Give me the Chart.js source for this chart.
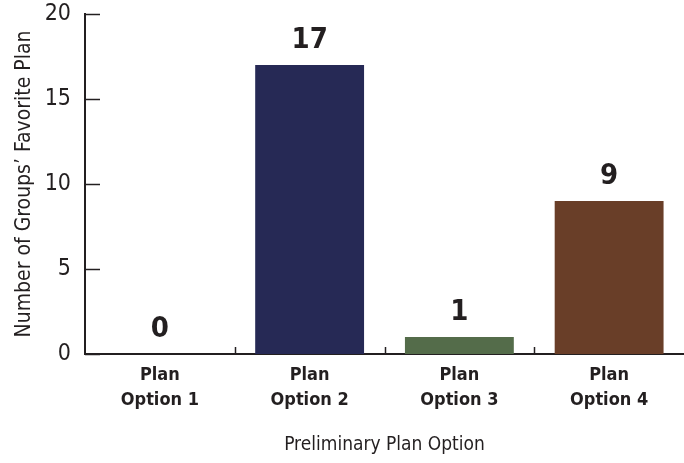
<!DOCTYPE html>
<html>
<head>
<meta charset="utf-8">
<script src="https://cdn.jsdelivr.net/npm/chart.js@4.4.1/dist/chart.umd.min.js"></script>
<style>
  html, body { margin: 0; padding: 0; background: #fff; }
  #wrap { width: 684px; height: 463px; position: relative; }
</style>
</head>
<body>
<div id="wrap"><canvas id="planChart"></canvas></div>
<script>
// data
const categories = [["Plan", "Option 1"], ["Plan", "Option 2"], ["Plan", "Option 3"], ["Plan", "Option 4"]];
const groupCounts = [0, 17, 1, 9];
const barColors = ["#7a7a7a", "#262955", "#546c4a", "#693e28"];
const yTicks = [0, 5, 10, 15, 20];

const FONT = "'Liberation Sans Narrow', 'DejaVu Sans Condensed', 'Arial Narrow', sans-serif";
const INK = "#231f20";

// inward tick marks + value labels above the bars
const axisMarks = {
  id: "axisMarks",
  afterDraw(chart) {
    const ctx = chart.ctx;
    const x = chart.scales.x;
    const y = chart.scales.y;
    ctx.save();
    ctx.strokeStyle = INK;
    ctx.lineWidth = 1.5;
    // y ticks pointing into the plot
    yTicks.forEach((v) => {
      const py = Math.round(y.getPixelForValue(v)) + 0.5;
      ctx.beginPath();
      ctx.moveTo(x.left, py);
      ctx.lineTo(x.left + 15, py);
      ctx.stroke();
    });
    // small ticks between categories on the x axis
    for (let i = 0; i < categories.length - 1; i++) {
      const bx = Math.round((x.getPixelForTick(i) + x.getPixelForTick(i + 1)) / 2) + 0.5;
      ctx.beginPath();
      ctx.moveTo(bx, y.bottom);
      ctx.lineTo(bx, y.bottom - 7);
      ctx.stroke();
    }
    ctx.restore();
  },
  afterDatasetsDraw(chart) {
    const ctx = chart.ctx;
    const meta = chart.getDatasetMeta(0);
    ctx.save();
    ctx.fillStyle = INK;
    ctx.font = "bold 29px " + FONT;
    ctx.textAlign = "center";
    ctx.textBaseline = "alphabetic";
    meta.data.forEach((bar, i) => {
      ctx.fillText(String(groupCounts[i]), bar.x, bar.y - 17);
    });
    ctx.restore();
  },
};

const ctx = document.getElementById("planChart").getContext("2d");
new Chart(ctx, {
  type: "bar",
  data: {
    labels: categories,
    datasets: [
      {
        data: groupCounts,
        backgroundColor: barColors,
        borderWidth: 0,
        categoryPercentage: 1,
        barPercentage: 0.727,
      },
    ],
  },
  options: {
    responsive: true,
    maintainAspectRatio: false,
    animation: false,
    layout: { padding: { top: 14, right: 0, left: 0, bottom: 0 } },
    plugins: {
      legend: { display: false },
      tooltip: { enabled: false },
    },
    scales: {
      x: {
        offset: true,
        grid: { display: false },
        border: { display: true, color: INK, width: 2 },
        ticks: {
          color: INK,
          font: { family: FONT, size: 18, weight: "bold", lineHeight: 1.39 },
          padding: 1,
          maxRotation: 0,
          autoSkip: false,
        },
        title: {
          display: true,
          text: "Preliminary Plan Option",
          color: INK,
          font: { family: FONT, size: 19, lineHeight: 1.2 },
          padding: { top: 0, bottom: 7 },
        },
        afterFit(scale) {
          scale.height = 109;
        },
      },
      y: {
        min: 0,
        max: 20,
        grid: { display: false },
        border: { display: true, color: INK, width: 2 },
        ticks: {
          stepSize: 5,
          color: INK,
          font: { family: FONT, size: 23, lineHeight: 0.5 },
          padding: 6,
        },
        title: {
          display: true,
          text: "Number of Groups’ Favorite Plan",
          color: INK,
          font: { family: FONT, size: 21, lineHeight: 1.2 },
          padding: { top: 12, bottom: 0 },
        },
        afterFit(scale) {
          scale.width = 85;
        },
      },
    },
  },
  plugins: [axisMarks],
});
</script>
</body>
</html>
